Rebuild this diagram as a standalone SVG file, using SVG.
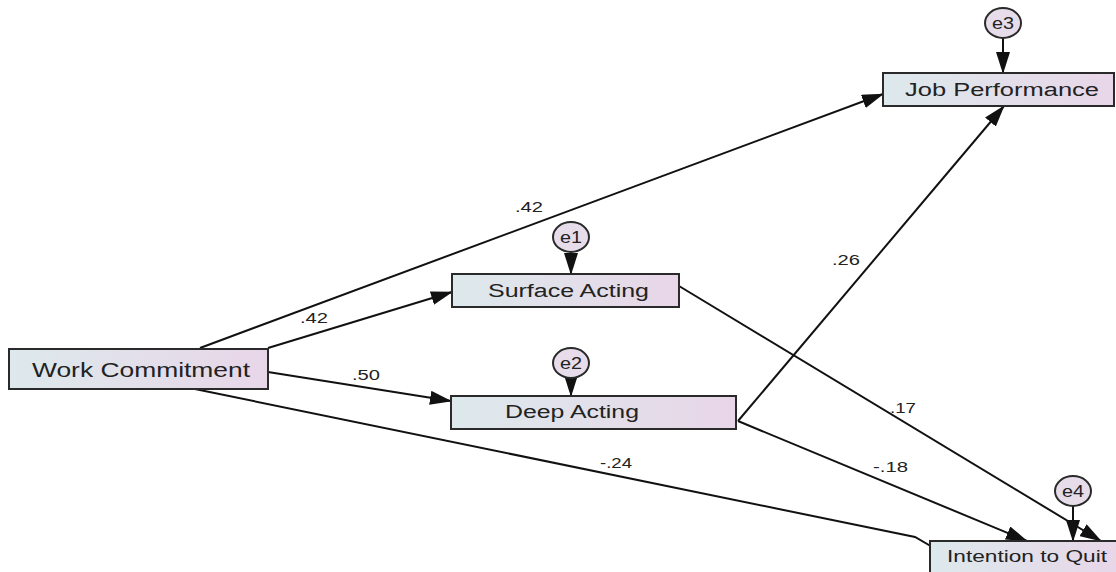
<svg xmlns="http://www.w3.org/2000/svg" width="1116" height="572" viewBox="0 0 1116 572">
  <defs>
    <linearGradient id="boxfill" x1="0" y1="0" x2="1" y2="0">
      <stop offset="0" stop-color="#dde9ec"/>
      <stop offset="1" stop-color="#e8d6e8"/>
    </linearGradient>
    <marker id="arrow" markerUnits="userSpaceOnUse" markerWidth="22" markerHeight="14" refX="21" refY="7" orient="auto">
      <path d="M0,0 L22,7 L0,14 Z" fill="#111"/>
    </marker>
    <style>
      .box { fill: url(#boxfill); stroke: #2a2a2a; stroke-width: 2; }
      .err { fill: #e6dcea; stroke: #2a2a2a; stroke-width: 2; }
      .lbl { font-family: "Liberation Sans", Arial, sans-serif; fill: #222; }
      .num { font-family: "Liberation Sans", Arial, sans-serif; font-size: 15px; fill: #222; }
      .conn { fill: none; stroke: #111; stroke-width: 2; }
    </style>
  </defs>
  <rect width="1116" height="572" fill="#ffffff"/>

  <g id="connectors">
    <line class="conn" x1="200" y1="348" x2="883" y2="94" marker-end="url(#arrow)"/>
    <line class="conn" x1="268" y1="348" x2="452" y2="292" marker-end="url(#arrow)"/>
    <line class="conn" x1="268" y1="372" x2="451" y2="401" marker-end="url(#arrow)"/>
    <polyline class="conn" points="190,388 915,537 934,548"/>
    <line class="conn" x1="679" y1="286" x2="1101" y2="541" marker-end="url(#arrow)"/>
    <line class="conn" x1="738" y1="421" x2="1027" y2="541" marker-end="url(#arrow)"/>
    <line class="conn" x1="738" y1="421" x2="1004" y2="106" marker-end="url(#arrow)"/>
    <line class="conn" x1="571" y1="252" x2="571" y2="274" marker-end="url(#arrow)"/>
    <line class="conn" x1="571" y1="378" x2="571" y2="396" marker-end="url(#arrow)"/>
    <line class="conn" x1="1003" y1="38" x2="1003" y2="73" marker-end="url(#arrow)"/>
    <line class="conn" x1="1073" y1="506" x2="1073" y2="541" marker-end="url(#arrow)"/>
    <text class="num" x="515" y="212" textLength="28" lengthAdjust="spacingAndGlyphs">.42</text>
    <text class="num" x="300" y="323" textLength="28" lengthAdjust="spacingAndGlyphs">.42</text>
    <text class="num" x="352" y="380" textLength="28" lengthAdjust="spacingAndGlyphs">.50</text>
    <text class="num" x="832" y="265" textLength="28" lengthAdjust="spacingAndGlyphs">.26</text>
    <text class="num" x="890" y="413" textLength="26" lengthAdjust="spacingAndGlyphs">.17</text>
    <text class="num" x="873" y="472" textLength="35" lengthAdjust="spacingAndGlyphs">-.18</text>
    <text class="num" x="600" y="468" textLength="32" lengthAdjust="spacingAndGlyphs">-.24</text>
  </g>

  <g id="work-commitment">
    <rect class="box" x="9" y="349" width="259" height="40"/>
    <text class="lbl" x="32" y="377" font-size="21" textLength="218" lengthAdjust="spacingAndGlyphs">Work Commitment</text>
  </g>

  <g id="surface-acting">
    <rect class="box" x="452" y="274" width="227" height="33"/>
    <text class="lbl" x="488" y="297" font-size="18" textLength="161" lengthAdjust="spacingAndGlyphs">Surface Acting</text>
  </g>

  <g id="deep-acting">
    <rect class="box" x="451" y="396" width="285" height="33"/>
    <text class="lbl" x="505" y="418" font-size="18" textLength="134" lengthAdjust="spacingAndGlyphs">Deep Acting</text>
  </g>

  <g id="job-performance">
    <rect class="box" x="883" y="73" width="231" height="33"/>
    <text class="lbl" x="905" y="96" font-size="18" textLength="194" lengthAdjust="spacingAndGlyphs">Job Performance</text>
  </g>

  <g id="intention-to-quit">
    <rect class="box" x="930" y="541" width="190" height="40"/>
    <text class="lbl" x="947" y="562" font-size="17" textLength="160" lengthAdjust="spacingAndGlyphs">Intention to Quit</text>
  </g>

  <g id="e1">
    <ellipse class="err" cx="571" cy="237" rx="18" ry="15"/>
    <text class="lbl" x="571" y="243" font-size="17" text-anchor="middle" textLength="22" lengthAdjust="spacingAndGlyphs">e1</text>
  </g>
  <g id="e2">
    <ellipse class="err" cx="571" cy="363" rx="18" ry="15"/>
    <text class="lbl" x="571" y="369" font-size="17" text-anchor="middle" textLength="22" lengthAdjust="spacingAndGlyphs">e2</text>
  </g>
  <g id="e3">
    <ellipse class="err" cx="1003" cy="23" rx="18" ry="15"/>
    <text class="lbl" x="1003" y="29" font-size="17" text-anchor="middle" textLength="22" lengthAdjust="spacingAndGlyphs">e3</text>
  </g>
  <g id="e4">
    <ellipse class="err" cx="1073" cy="491" rx="18" ry="15"/>
    <text class="lbl" x="1073" y="497" font-size="17" text-anchor="middle" textLength="22" lengthAdjust="spacingAndGlyphs">e4</text>
  </g>
</svg>
